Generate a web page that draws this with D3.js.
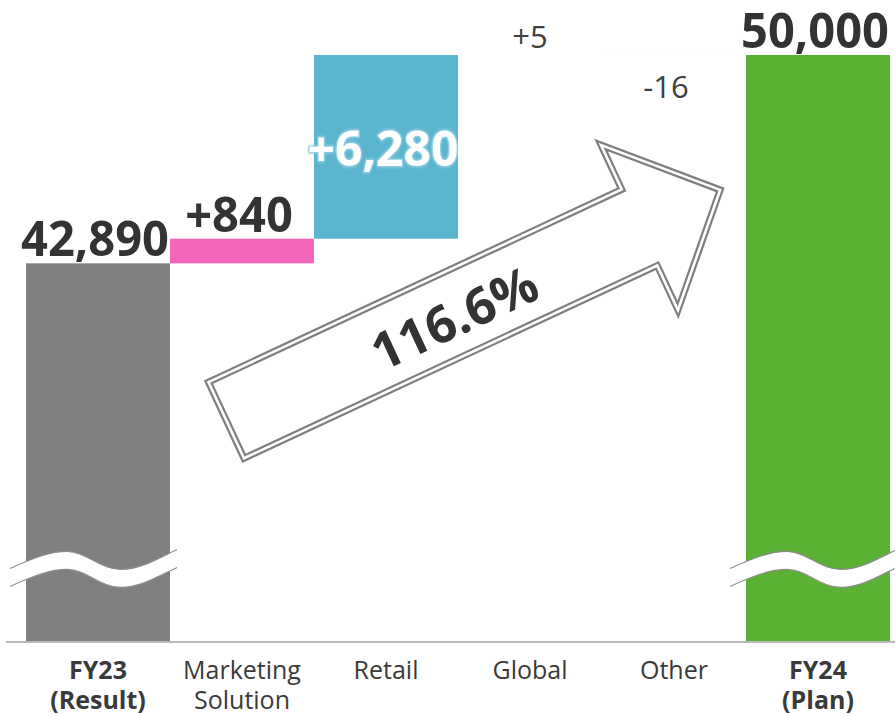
<!DOCTYPE html>
<html>
<head>
<meta charset="utf-8">
<script src="https://cdn.jsdelivr.net/npm/d3@7"></script>
<style>
  html, body { margin: 0; padding: 0; background: #fff; }
  svg { display: block; font-family: "Open Sans", "Noto Sans", sans-serif; }
</style>
</head>
<body>
<svg id="chart" width="895" height="716"></svg>
<script>
// Waterfall: FY23 result to FY24 plan, contribution by business
const categories = ["FY23 (Result)", "Marketing Solution", "Retail", "Global", "Other", "FY24 (Plan)"];
const categoryLines = [["FY23", "(Result)"], ["Marketing", "Solution"], ["Retail"], ["Global"], ["Other"], ["FY24", "(Plan)"]];
const kinds = ["total", "delta", "delta", "delta", "delta", "total"];
const values = [42890, 840, 6280, 5, -16, 50000];
const valueLabels = ["42,890", "+840", "+6,280", "+5", "-16", "50,000"];
const growthLabel = "116.6%";

const barColors = ["#808080", "#f466ba", "#5bb5cf", "#9a7cc8", "#e3cf7e", "#5bb133"];

// running totals -> bar extents
let running = 0;
const bars = categories.map((c, i) => {
  let start, end;
  if (kinds[i] === "total") { start = 0; end = values[i]; running = values[i]; }
  else { start = running; end = running + values[i]; running = end; }
  return { cat: c, lines: categoryLines[i], kind: kinds[i], value: values[i], label: valueLabels[i],
           start, end, color: barColors[i], i };
});

const svg = d3.select("#chart");
const W = 895, H = 716;
const baseY = 641;

const x = d3.scaleBand().domain(categories).range([26, 890]).padding(0);
// broken value axis: the visible part starts well above zero
const axisFloor = 30000;
const y = d3.scaleLinear().domain([axisFloor, 50000]).range([baseY, 55]).clamp(true);

// bars
svg.append("g").selectAll("rect").data(bars).join("rect")
  .attr("x", d => x(d.cat))
  .attr("width", x.bandwidth())
  .attr("y", d => y(Math.max(d.start, d.end)))
  .attr("height", d => Math.abs(y(d.start) - y(d.end)))
  .attr("fill", d => d.color);

// axis-break waves across the full-height bars
const breakValue = 32750;
const waveTop = "M0,8 C25,-3 40,-9 57,-9 C76,-9 90,9 111,9 C131,9 150,-3 167,-11";
const waveGap = 18;
const breakG = svg.append("g");
bars.filter(d => d.kind === "total").forEach(d => {
  const x0 = x(d.cat) - 16;
  const yc = y(breakValue);
  const g = breakG.append("g").attr("transform", `translate(${x0},${yc})`);
  // white band between two wavy edges
  g.append("path")
    .attr("d", `M0,8 C25,-3 40,-9 57,-9 C76,-9 90,9 111,9 C131,9 150,-3 167,-11 L167,${-11 + waveGap} C150,${-3 + waveGap} 131,${9 + waveGap} 111,${9 + waveGap} C90,${9 + waveGap} 76,${-9 + waveGap} 57,${-9 + waveGap} C40,${-9 + waveGap} 25,${-3 + waveGap} 0,${8 + waveGap} Z`)
    .attr("fill", "#fff");
  g.append("path").attr("d", waveTop).attr("fill", "none").attr("stroke", "#8c8c8c").attr("stroke-width", 1.2);
  g.append("path").attr("d", waveTop).attr("transform", `translate(0,${waveGap})`)
    .attr("fill", "none").attr("stroke", "#8c8c8c").attr("stroke-width", 1.2);
});

// baseline
svg.append("line")
  .attr("x1", 6).attr("x2", W).attr("y1", baseY + 1).attr("y2", baseY + 1)
  .attr("stroke", "#b8b8b8").attr("stroke-width", 2.2);

// category labels
const catG = svg.append("g");
bars.forEach(d => {
  const cx = x(d.cat) + x.bandwidth() / 2;
  d.lines.forEach((ln, k) => {
    catG.append("text")
      .attr("x", cx)
      .attr("y", 679 + k * 30)
      .attr("text-anchor", "middle")
      .attr("font-size", 25)
      .attr("font-weight", d.kind === "total" ? 700 : 400)
      .attr("fill", "#3a3a3a")
      .text(ln);
  });
});

// growth arrow with double outline
const ax0 = 223.5, ay0 = 421.5, angle = -25;
const arrowG = svg.append("g").attr("transform", `translate(${ax0},${ay0}) rotate(${angle})`);
const arrowPath = "M3,-42 L459,-42 L459,-91 L548,0 L459,91 L459,42 L3,42 Z";
arrowG.append("path").attr("d", arrowPath)
  .attr("fill", "#fff").attr("stroke", "#7f7f7f").attr("stroke-width", 7)
  .attr("stroke-linejoin", "miter").attr("stroke-miterlimit", 10);
arrowG.append("path").attr("d", arrowPath)
  .attr("fill", "none").attr("stroke", "#fff").attr("stroke-width", 2.6)
  .attr("stroke-linejoin", "miter").attr("stroke-miterlimit", 10);
arrowG.append("text")
  .attr("x", 253).attr("y", 2)
  .attr("text-anchor", "middle").attr("dominant-baseline", "central")
  .attr("font-size", 51).attr("font-weight", 700).attr("fill", "#333")
  .text(growthLabel);

// value labels
const defs = svg.append("defs");
defs.append("filter").attr("id", "glow").attr("x", "-20%").attr("y", "-40%").attr("width", "140%").attr("height", "180%")
  .append("feGaussianBlur").attr("stdDeviation", 0.8);

const labG = svg.append("g");
function label(cx, cy, txt, size, weight, fill, sx, baseline) {
  const g = labG.append("g").attr("transform", `translate(${cx},${cy}) scale(${sx},1)`);
  return g.append("text")
    .attr("text-anchor", "middle")
    .attr("dominant-baseline", baseline || "auto")
    .attr("font-size", size).attr("font-weight", weight).attr("fill", fill)
    .text(txt);
}
bars.forEach(d => {
  const cx = x(d.cat) + x.bandwidth() / 2;
  const top = y(Math.max(d.start, d.end));
  const bottom = y(Math.min(d.start, d.end));
  const major = d.kind === "total" || Math.abs(d.value) >= 100;
  const size = major ? 49 : 31;
  const weight = major ? 700 : 400;
  if (bottom - top > 120 && d.kind === "delta") {
    // tall delta bar: label inside, white with a soft halo
    const cy = (top + bottom) / 2;
    label(cx - 3, cy, d.label, size, weight, "#8fcde0", 0.98, "central")
      .attr("stroke", "#8fcde0").attr("stroke-width", 3).attr("stroke-linejoin", "round")
      .attr("filter", "url(#glow)");
    label(cx - 3, cy, d.label, size, weight, "#fff", 0.98, "central");
  } else if (d.value < 0) {
    label(cx - 8, bottom + 43, d.label, size, weight, "#404040", 1);
  } else if (major) {
    label(cx - 3, top - 7, d.label, size, weight, "#333", 0.96);
  } else {
    label(cx, top - 7, d.label, size, weight, "#404040", 1);
  }
});
</script>
</body>
</html>
